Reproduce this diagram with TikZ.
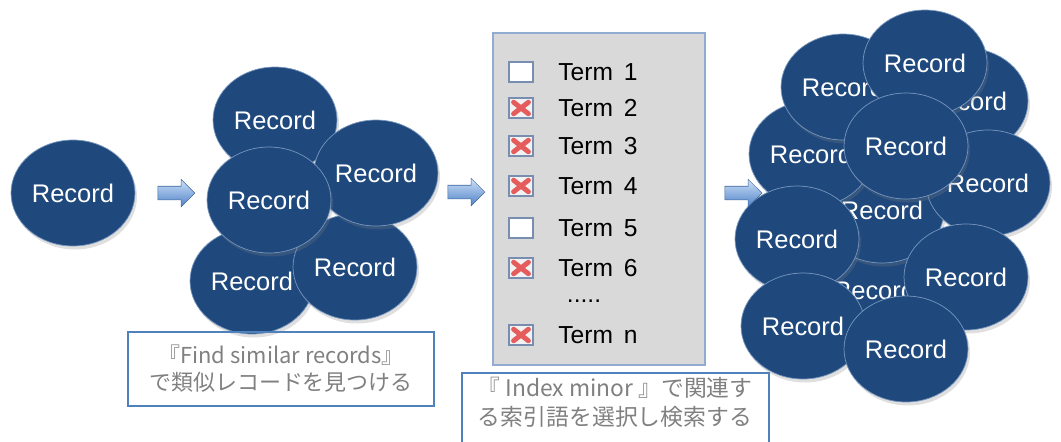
\documentclass[tikz,border=0pt]{standalone}
\usepackage{fontspec}
\setmainfont{Liberation Sans}
\newfontfamily\jpfont{Noto Sans CJK JP}
\usepackage{xcolor}
\usetikzlibrary{shapes.geometric,shapes.arrows,shadows}

\definecolor{recblue}{RGB}{31,73,125}
\definecolor{recedge}{RGB}{120,150,190}
\definecolor{panelgray}{RGB}{217,217,217}
\definecolor{paneledge}{RGB}{145,172,208}
\definecolor{capedge}{RGB}{79,129,189}
\definecolor{capgray}{RGB}{128,128,128}
\definecolor{xred}{RGB}{228,92,92}
\definecolor{chkedge}{RGB}{120,142,176}
\definecolor{arrlight}{RGB}{205,225,248}
\definecolor{arrdark}{RGB}{80,130,200}

\begin{document}
\begin{tikzpicture}[x=0.02cm, y=-0.02cm,
            rec/.style={ellipse, fill=recblue, draw=recedge, line width=0.4pt, inner sep=0pt,
                minimum width=2.48cm, minimum height=2.12cm, text=white,
                font=\fontsize{14.5}{17}\selectfont,
                drop shadow={shadow xshift=0.4mm, shadow yshift=-0.7mm, opacity=0.25}},
            flowarrow/.style={single arrow, draw=arrdark!80!black, line width=0.3pt,
                inner xsep=0pt, inner ysep=0.13cm, minimum height=0.74cm,
                single arrow head extend=0.14cm,
                top color=arrlight, bottom color=arrdark},
            chk/.style={draw=chkedge, fill=white, line width=0.7pt, inner sep=0pt,
                minimum width=0.48cm, minimum height=0.40cm},
            xbox/.style={chk, fill=white!90!gray, path picture={
                \draw[xred, line width=2.8pt, line cap=round]
                    ([shift={(2.6pt,2.4pt)}]path picture bounding box.south west) --
                    ([shift={(-2.6pt,-2.4pt)}]path picture bounding box.north east)
                    ([shift={(2.6pt,-2.4pt)}]path picture bounding box.north west) --
                    ([shift={(-2.6pt,2.4pt)}]path picture bounding box.south east);}},
            term/.style={inner sep=0pt, font=\fontsize{14}{17}\selectfont},
            capbox/.style={draw=capedge, line width=0.8pt, align=center, text=capgray}
            ]
            \useasboundingbox (0,0) rectangle (1061,441);

            % One record
            \node[rec] (solo) at (73,193) {Record};

            % Similar records
            \node[rec] (simtop) at (275,120) {Record};
            \node[rec] (simbl) at (252,281) {Record};
            \node[rec] (simbr) at (355,267) {Record};
            \node[rec] (simr) at (376,173) {Record};
            \node[rec] (simc) at (269,200) {Record};
            \node[capbox, minimum width=6.12cm, minimum height=1.48cm,
                font=\jpfont\fontsize{12.5}{15.3}\selectfont] (cap1) at (281,369)
                {『Find similar records』\\で類似レコードを見つける};

            % Index minor panel
            \node[draw=paneledge, fill=panelgray, line width=0.7pt,
                minimum width=4.24cm, minimum height=6.64cm] (panel) at (599,199) {};
            \foreach \t/\y/\s in {1/72/chk, 2/108/xbox, 3/146/xbox, 4/186/xbox,
                5/228/chk, 6/268/xbox, n/335/xbox} {
                \node[term, anchor=west] (term\t) at (558,\y) {Term\, \t};
                \node[\s] (box\t) at (521,\y) {};
            }
            \node[term] (dots) at (584,301) {.....};
            \node[text=capgray, align=center, font=\jpfont\fontsize{13}{16.4}\selectfont]
                (cap2) at (615,402) {『 Index minor 』で関連す\\る索引語を選択し検索する};
            \draw[capedge, line width=0.8pt] (462,460) |- (769,373) -- (769,460);

            % Search result records
            \foreach \n/\x/\y in {i/874/290, g/882/210, d/811/154, a/843/87, c/966/101,
                b/925/63, f/988/183, e/906/146, j/966/277, h/797/239, k/803/326, l/906/349}
                \node[rec] (res\n) at (\x,\y) {Record};

            % Arrows
            \node[flowarrow] (arr1) at (173,193) {};
            \node[flowarrow] (arr2) at (463,192) {};
            \node[flowarrow] (arr3) at (740,193) {};
        \end{tikzpicture}
\end{document}
